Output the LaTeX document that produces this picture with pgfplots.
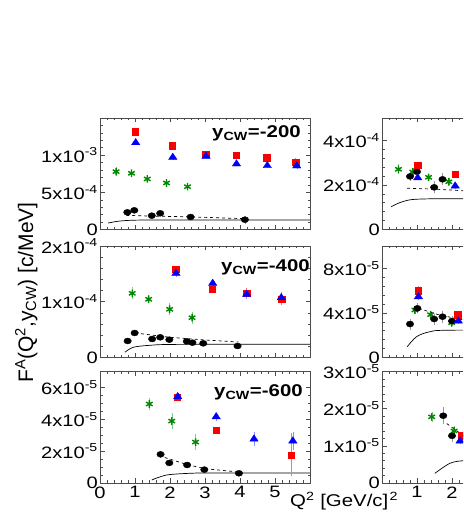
\documentclass[border=0pt]{standalone}
\usepackage{fontspec}
\setmainfont{Liberation Sans}
\usepackage{pgfplots}
\pgfplotsset{compat=1.18}

\definecolor{sqred}{RGB}{250,0,0}
\definecolor{tblue}{RGB}{0,0,250}
\definecolor{stgreen}{RGB}{0,135,0}

\pgfplotsset{
  panel/.style={
    scale only axis, width=210pt, height=111.5pt, anchor=south west,
    xmin=0, xmax=6, ymin=0,
    xtick={0,...,6}, minor x tick num=4, xticklabels={},
    tick align=inside, major tick length=4.5pt, minor tick length=2.5pt,
    scaled y ticks=false, scaled x ticks=false,
    tick label style={font=\fontsize{16.5}{16.5}\selectfont, xscale=1.22},
    yticklabel style={inner xsep=1.5pt, inner ysep=0pt},
    axis line style={line width=0.6pt, black!70},
    every tick/.style={black!70, line width=0.5pt},
  },
  ebar/.style={error bars/.cd, y dir=both, y explicit,
    error bar style={#1, line width=0.5pt}, error mark options={mark size=1.6pt, #1}},
  rsq/.style={only marks, mark=square*, mark size=3.2pt, sqred, ebar=sqred!55},
  btri/.style={only marks, mark=triangle*, mark size=4.2pt, tblue, mark options={xscale=1.15}, ebar=tblue!45},
  gstar/.style={only marks, mark=asterisk, mark size=3.8pt, stgreen, mark options={line width=1.4pt}, ebar=stgreen!45},
  kdot/.style={only marks, mark=*, mark size=3pt, black, mark options={xscale=1.25}, ebar=black!40},
  solidc/.style={no marks, black, line width=0.7pt, smooth},
  dashc/.style={no marks, black, line width=0.7pt, dashed},
}
\tikzset{cw/.style={anchor=base west, font=\fontsize{17}{17}\selectfont\bfseries, xscale=1.2}}

\begin{document}
\begin{tikzpicture}
\path[use as bounding box] (0pt,0pt) rectangle (463pt,518pt);
\begin{scope}
\clip (0pt,0pt) rectangle (463pt,518pt);

% ---------- y_CW = -200 ----------
\begin{axis}[panel, at={(100pt,288.5pt)}, ymax=1.5e-3,
  ytick={0,5e-4,1e-3,1.5e-3}, minor y tick num=4,
  yticklabels={0,5x10\textsuperscript{-4},1x10\textsuperscript{-3},}]
\addplot[solidc] coordinates {(0.23,0.087e-3) (0.5,0.11e-3) (0.8,0.122e-3) (1.2,0.127e-3) (2,0.128e-3) (6,0.128e-3)};
\addplot[dashc] coordinates {(0.75,0.19e-3) (1.5,0.18e-3) (2.6,0.17e-3) (3.5,0.155e-3) (4.2,0.145e-3)};
\addplot[gstar] coordinates {(0.46,0.778e-3) +- (0,0.035e-3) (0.90,0.756e-3) +- (0,0.015e-3) (1.35,0.680e-3) +- (0,0.015e-3) (1.90,0.626e-3) +- (0,0.015e-3) (2.50,0.576e-3) +- (0,0.015e-3)};
\addplot[kdot] coordinates {(0.78,0.231e-3) +- (0,0.01e-3) (0.98,0.258e-3) +- (0,0.01e-3) (1.48,0.186e-3) +- (0,0.01e-3) (1.72,0.218e-3) +- (0,0.01e-3) (2.59,0.168e-3) +- (0,0.01e-3) (4.14,0.132e-3) +- (0,0.03e-3)};
\addplot[rsq] coordinates {(1.00,1.316e-3) +- (0,0.01e-3) (2.07,1.128e-3) +- (0,0.01e-3) (3.02,1.016e-3) +- (0,0.01e-3) (3.89,0.998e-3) +- (0,0.01e-3) (4.76,0.967e-3) +- (0,0.01e-3) (5.59,0.904e-3) +- (0,0.03e-3)};
\addplot[btri] coordinates {(1.02,1.168e-3) +- (0,0.01e-3) (2.08,0.971e-3) +- (0,0.01e-3) (3.03,0.985e-3) +- (0,0.01e-3) (3.90,0.882e-3) +- (0,0.01e-3) (4.78,0.859e-3) +- (0,0.01e-3) (5.62,0.855e-3) +- (0,0.02e-3)};
\end{axis}

% ---------- y_CW = -400 ----------
\begin{axis}[panel, at={(100pt,160.5pt)}, ymax=2e-4,
  ytick={0,1e-4,2e-4}, minor y tick num=4,
  yticklabels={0,1x10\textsuperscript{-4},2x10\textsuperscript{-4}}]
\addplot[solidc] coordinates {(0.71,0.093e-4) (0.95,0.183e-4) (1.43,0.219e-4) (2.2,0.235e-4) (6,0.237e-4)};
\addplot[dashc] coordinates {(1.0,0.44e-4) (2.0,0.362e-4) (3.0,0.314e-4) (3.95,0.278e-4)};
\addplot[gstar] coordinates {(0.92,1.151e-4) +- (0,0.08e-4) (1.39,1.044e-4) +- (0,0.04e-4) (1.99,0.865e-4) +- (0,0.08e-4) (2.63,0.714e-4) +- (0,0.08e-4)};
\addplot[kdot] coordinates {(0.79,0.296e-4) +- (0,0.02e-4) (0.99,0.44e-4) +- (0,0.03e-4) (1.49,0.332e-4) +- (0,0.02e-4) (1.72,0.362e-4) +- (0,0.02e-4) (1.98,0.32e-4) +- (0,0.02e-4) (2.48,0.29e-4) +- (0,0.02e-4) (2.64,0.266e-4) +- (0,0.02e-4) (2.95,0.254e-4) +- (0,0.02e-4) (3.93,0.206e-4) +- (0,0.02e-4)};
\addplot[rsq] coordinates {(2.16,1.587e-4) +- (0,0.03e-4) (3.21,1.223e-4) +- (0,0.03e-4) (4.19,1.151e-4) +- (0,0.07e-4) (5.19,1.044e-4) +- (0,0.08e-4)};
\addplot[btri] coordinates {(2.17,1.51e-4) +- (0,0.03e-4) (3.22,1.33e-4) +- (0,0.03e-4) (4.19,1.133e-4) +- (0,0.06e-4) (5.18,1.073e-4) +- (0,0.07e-4)};
\end{axis}

% ---------- y_CW = -600 ----------
\begin{axis}[panel, at={(100pt,35pt)}, ymax=7e-5,
  ytick={0,2e-5,4e-5,6e-5}, minor y tick num=3,
  yticklabels={0,2x10\textsuperscript{-5},4x10\textsuperscript{-5},6x10\textsuperscript{-5}},
  xticklabels={0,1,2,3,4,5,}]
\addplot[solidc] coordinates {(1.48,0.19e-5) (1.9,0.5e-5) (2.57,0.61e-5) (3.2,0.63e-5) (6,0.63e-5)};
\addplot[dashc] coordinates {(1.85,1.6e-5) (2.5,1.15e-5) (3.0,0.9e-5) (4.0,0.68e-5)};
\addplot[gstar] coordinates {(1.41,4.96e-5) +- (0,0.3e-5) (2.05,3.89e-5) +- (0,0.4e-5) (2.73,2.57e-5) +- (0,0.4e-5)};
\addplot[kdot] coordinates {(1.73,1.80e-5) +- (0,0.12e-5) (1.98,1.26e-5) +- (0,0.08e-5) (2.49,1.13e-5) +- (0,0.06e-5) (2.98,0.84e-5) +- (0,0.05e-5) (3.97,0.61e-5) +- (0,0.05e-5)};
\addplot[rsq] coordinates {(2.21,5.38e-5) +- (0,0.15e-5) (3.32,3.33e-5) +- (0,0.1e-5) (5.47,1.76e-5) +- (0,1.25e-5)};
\addplot[btri] coordinates {(2.22,5.42e-5) +- (0,0.15e-5) (3.32,4.16e-5) +- (0,0.15e-5) (4.40,2.76e-5) +- (0,0.35e-5) (5.51,2.64e-5) +- (0,0.45e-5)};
\end{axis}

% ---------- right column, top ----------
\begin{axis}[panel, at={(382pt,288.5pt)}, ymax=5e-4,
  ytick={0,2e-4,4e-4}, minor y tick num=4,
  yticklabels={0,2x10\textsuperscript{-4},4x10\textsuperscript{-4}}]
\addplot[solidc] coordinates {(0.26,1.02e-4) (0.5,1.2e-4) (0.8,1.33e-4) (1.2,1.37e-4) (2,1.38e-4) (6,1.38e-4)};
\addplot[dashc] coordinates {(0.72,1.85e-4) (1.5,1.81e-4) (2.3,1.74e-4) (3,1.7e-4)};
\addplot[gstar] coordinates {(0.47,2.70e-4) +- (0,0.15e-4) (0.88,2.58e-4) +- (0,0.1e-4) (1.33,2.34e-4) +- (0,0.08e-4) (1.91,2.14e-4) +- (0,0.08e-4)};
\addplot[kdot] coordinates {(0.80,2.38e-4) +- (0,0.15e-4) (1.0,2.59e-4) +- (0,0.15e-4) (1.49,1.89e-4) +- (0,0.2e-4) (1.73,2.25e-4) +- (0,0.2e-4)};
\addplot[rsq] coordinates {(1.02,2.89e-4) +- (0,0.05e-4) (2.09,2.47e-4) +- (0,0.05e-4)};
\addplot[btri] coordinates {(1.02,2.32e-4) +- (0,0.05e-4) (2.09,1.95e-4) +- (0,0.05e-4)};
\end{axis}

% ---------- right column, middle ----------
\begin{axis}[panel, at={(382pt,160.5pt)}, ymax=1e-4,
  ytick={0,4e-5,8e-5}, minor y tick num=4,
  yticklabels={0,4x10\textsuperscript{-5},8x10\textsuperscript{-5}}]
\addplot[solidc] coordinates {(0.72,0.97e-5) (0.99,1.87e-5) (1.37,2.31e-5) (2.0,2.45e-5) (6,2.47e-5)};
\addplot[dashc] coordinates {(1.05,4.4e-5) (1.6,3.85e-5) (2.32,3.36e-5) (3,3.1e-5)};
\addplot[gstar] coordinates {(0.94,4.26e-5) +- (0,0.2e-5) (1.39,3.84e-5) +- (0,0.15e-5) (1.99,3.12e-5) +- (0,0.25e-5)};
\addplot[kdot] coordinates {(0.80,3.0e-5) +- (0,0.35e-5) (1.01,4.41e-5) +- (0,0.3e-5) (1.49,3.45e-5) +- (0,0.35e-5) (1.73,3.66e-5) +- (0,0.4e-5) (2.0,3.27e-5) +- (0,0.3e-5)};
\addplot[rsq] coordinates {(1.04,5.99e-5) +- (0,0.25e-5) (2.16,3.84e-5) +- (0,0.1e-5)};
\addplot[btri] coordinates {(1.04,5.45e-5) +- (0,0.15e-5) (2.18,3.27e-5) +- (0,0.1e-5)};
\end{axis}

% ---------- right column, bottom ----------
\begin{axis}[panel, at={(382pt,35pt)}, ymax=3e-5,
  ytick={0,1e-5,2e-5,3e-5}, minor y tick num=4,
  yticklabels={0,1x10\textsuperscript{-5},2x10\textsuperscript{-5},3x10\textsuperscript{-5}},
  xticklabels={,1,2}]
\addplot[solidc] coordinates {(1.51,0.26e-5) (1.94,0.53e-5) (2.32,0.6e-5) (3,0.63e-5) (6,0.63e-5)};
\addplot[dashc] coordinates {(1.85,1.6e-5) (2.5,1.15e-5) (3.0,0.9e-5) (4.0,0.68e-5)};
\addplot[gstar] coordinates {(1.42,1.78e-5) +- (0,0.1e-5) (2.06,1.40e-5) +- (0,0.1e-5)};
\addplot[kdot] coordinates {(1.75,1.81e-5) +- (0,0.18e-5) (2.0,1.27e-5) +- (0,0.12e-5)};
\addplot[rsq] coordinates {(2.26,1.27e-5) +- (0,0.05e-5)};
\addplot[btri] coordinates {(2.23,1.13e-5) +- (0,0.05e-5)};
\end{axis}

% ---------- labels ----------
\node[cw] at (208pt,380.5pt) {y\textsubscript{CW}=-200};
\node[cw] at (217pt,246.3pt) {y\textsubscript{CW}=-400};
\node[cw] at (210pt,121pt) {y\textsubscript{CW}=-600};
\node[rotate=90, anchor=base west, inner sep=0pt, font=\fontsize{21}{21}\selectfont] at (33pt,135pt) {F\textsuperscript{A}(Q\textsuperscript{2},y\textsubscript{CW}) [c/MeV]};
\node[anchor=base west, inner sep=0pt, font=\fontsize{17}{17}\selectfont, xscale=1.2] at (290pt,11.5pt) {Q\textsuperscript{2} [GeV/c]\kern1pt\textsuperscript{2}};
\end{scope}
\end{tikzpicture}
\end{document}
